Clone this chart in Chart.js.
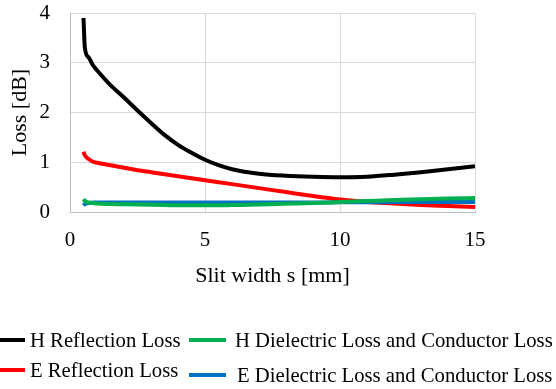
<!DOCTYPE html>
<html>
<head>
<meta charset="utf-8">
<script src="https://cdn.jsdelivr.net/npm/chart.js@4/dist/chart.umd.min.js"></script>
<style>
  html, body { margin: 0; padding: 0; background: #fff; }
  #wrap { position: relative; width: 556px; height: 389px; }
  #legend { position: absolute; left: 0; top: 0; font-family: "Liberation Serif", "Times New Roman", serif; font-size: 20.7px; color: #000; }
  .item { position: absolute; white-space: nowrap; display: flex; align-items: center; height: 24px; line-height: 24px; }
  .swatch { display: inline-block; height: 4px; }
</style>
</head>
<body>
<div id="wrap">
  <canvas id="chart" width="556" height="389"></canvas>
  <div id="legend"></div>
</div>
<script>
// slit width s [mm]
const slitWidth = [0.5, 0.55, 0.7, 0.85, 1, 1.5, 2, 2.5, 3, 3.5, 4, 4.5, 5, 5.5, 6, 7, 8, 9, 10, 11, 12, 13, 14, 15]

const hReflection = [3.9, 3.3, 3.1, 2.95, 2.85, 2.55, 2.3, 2.04, 1.79, 1.55, 1.35, 1.19, 1.05, 0.94, 0.86, 0.77, 0.73, 0.71, 0.7, 0.71, 0.75, 0.8, 0.86, 0.92]
const eReflection = [1.21, 1.14, 1.06, 1.01, 0.99, 0.94, 0.89, 0.84, 0.8, 0.76, 0.72, 0.68, 0.64, 0.6, 0.56, 0.48, 0.4, 0.32, 0.25, 0.2, 0.17, 0.14, 0.12, 0.1]
const hDielectric = [0.26, 0.22, 0.19, 0.18, 0.17, 0.16, 0.155, 0.15, 0.145, 0.14, 0.135, 0.135, 0.135, 0.135, 0.14, 0.15, 0.165, 0.18, 0.2, 0.22, 0.24, 0.255, 0.27, 0.28]
const eDielectric = [0.13, 0.16, 0.18, 0.19, 0.19, 0.19, 0.19, 0.19, 0.19, 0.19, 0.19, 0.19, 0.19, 0.19, 0.19, 0.19, 0.19, 0.19, 0.195, 0.195, 0.2, 0.2, 0.2, 0.2]

const seriesNames = ["H Reflection Loss", "E Reflection Loss", "H Dielectric Loss and Conductor Loss", "E Dielectric Loss and Conductor Loss"]
const seriesColors = ["#000000", "#ff0000", "#00b050", "#0070c0"]
const xTicks = [0, 5, 10, 15]
const yTicks = [0, 1, 2, 3, 4]

const FONT = "'Liberation Serif', 'Times New Roman', serif"

const pts = ys => slitWidth.map((x, i) => ({ x: x, y: ys[i] }))
const allSeries = [hReflection, eReflection, hDielectric, eDielectric]

// draw order: dielectric lines under, blue on top of green
const drawOrder = [2, 3, 1, 0]

const chart = new Chart(document.getElementById("chart"), {
    type: 'line',
    data: {
        datasets: drawOrder.map(i => ({
            label: seriesNames[i],
            data: pts(allSeries[i]),
            borderColor: seriesColors[i],
            backgroundColor: seriesColors[i],
            borderWidth: 4,
            pointRadius: 0,
            cubicInterpolationMode: 'monotone',
            fill: false
        }))
    },
    options: {
        responsive: false,
        animation: false,
        layout: { padding: { left: 0, right: 81, top: 13, bottom: 100 } },
        plugins: {
            legend: { display: false },
            tooltip: { enabled: false }
        },
        scales: {
            x: {
                type: 'linear',
                min: xTicks[0],
                max: xTicks[xTicks.length - 1],
                afterBuildTicks: s => { s.ticks = xTicks.map(v => ({ value: v })) },
                afterFit: s => { s.height = 77; s.paddingLeft = 0; s.paddingRight = 0 },
                grid: { color: "#d9d9d9", lineWidth: 1, drawTicks: false },
                border: { color: "#bfbfbf" },
                ticks: { color: "#000", font: { family: FONT, size: 21 }, padding: 16, maxRotation: 0 },
                title: { display: true, text: "Slit width s [mm]", color: "#000", font: { family: FONT, size: 22 }, padding: { top: 4, bottom: 0 } }
            },
            y: {
                min: yTicks[0],
                max: yTicks[yTicks.length - 1],
                afterBuildTicks: s => { s.ticks = yTicks.map(v => ({ value: v })) },
                afterFit: s => { s.width = 70; s.paddingTop = 0; s.paddingBottom = 0 },
                grid: { color: "#d9d9d9", lineWidth: 1, drawTicks: false },
                border: { color: "#bfbfbf" },
                ticks: { color: "#000", font: { family: FONT, size: 21 }, padding: 20 },
                title: { display: true, text: "Loss [dB]", color: "#000", font: { family: FONT, size: 22 }, padding: { top: 7, bottom: 0 } }
            }
        }
    }
})

// legend, two columns: line start, line width, text start, row centre
const legendPos = [
    { left: 0, w: 25, text: 30, cy: 340 },
    { left: 0, w: 25, text: 30, cy: 370 },
    { left: 189, w: 37, text: 235, cy: 340 },
    { left: 189, w: 37, text: 237, cy: 375 }
]
const legend = document.getElementById("legend")
seriesNames.forEach((name, i) => {
    const p = legendPos[i]
    const div = document.createElement("div")
    div.className = "item"
    div.style.left = p.left + "px"
    div.style.top = (p.cy - 12) + "px"
    div.innerHTML = `<span class="swatch" style="width:${p.w}px;background:${seriesColors[i]}"></span><span style="margin-left:${p.text - p.left - p.w}px">${name}</span>`
    legend.appendChild(div)
})
</script>
</body>
</html>
